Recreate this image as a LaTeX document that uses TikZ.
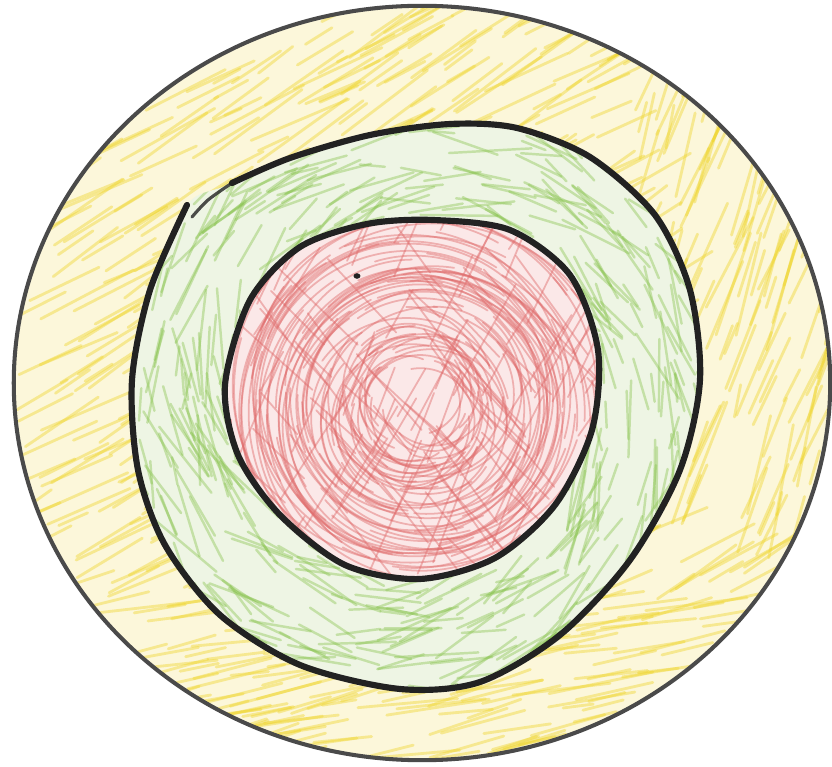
\documentclass[tikz,border=0pt]{standalone}
\definecolor{ybase}{HTML}{FCF7DA}
\definecolor{ystroke}{HTML}{EFD52A}
\definecolor{gbase}{HTML}{EEF5E4}
\definecolor{gstroke}{HTML}{86C24A}
\definecolor{rbase}{HTML}{FBE8E8}
\definecolor{rstroke}{HTML}{E06A6A}
\definecolor{outline}{HTML}{4A4A4A}
\definecolor{ink}{HTML}{222222}
\tikzset{
  outerring/.style={draw=outline, line width=1.15pt},
  blobline/.style={draw=ink, line width=1.75pt, line cap=round, line join=round},
  ycrayon/.style={draw=ystroke, line width=0.8pt, draw opacity=0.42, line cap=round},
  gcrayon/.style={draw=gstroke, line width=0.7pt, draw opacity=0.40, line cap=round},
  rcrayon/.style={draw=rstroke, line width=0.5pt, draw opacity=0.45, line cap=round},
}
\begin{document}
\begin{tikzpicture}[x=0.01cm,y=-0.01cm]
\useasboundingbox (0,0) rectangle (832,767);
\pgfmathsetseed{7}
% ---- outer yellow disc
\fill[ybase] (422,383) ellipse [x radius=4.08cm, y radius=3.77cm];
\begin{scope}
  \clip (422,383) ellipse [x radius=4.08cm, y radius=3.77cm];
  \foreach \i in {1,...,950}{
    \pgfmathsetmacro\px{10+rnd*820}
    \pgfmathsetmacro\py{4+rnd*760}
    \pgfmathsetmacro\ang{(\px>630 && \py<560) ? (-62-rnd*18) : ((\py>600) ? (-5-rnd*15) : (-22-rnd*16))}
    \pgfmathsetmacro\len{30+rnd*80}
    \draw[ycrayon] (\px,\py) -- ++(\ang:\len);
  }
\end{scope}
% ---- green blob
\fill[gbase] plot[smooth cycle] coordinates {
  (187,205) (150,290) (132,380) (138,470) (165,545) (220,615) (300,665)
  (400,689) (480,682) (560,635) (630,560) (680,470) (700,380) (690,290)
  (655,215) (590,157) (517,128) (450,124) (370,135) (290,158) (225,186)};
\begin{scope}
  \clip plot[smooth cycle] coordinates {
  (187,205) (150,290) (132,380) (138,470) (165,545) (220,615) (300,665)
  (400,689) (480,682) (560,635) (630,560) (680,470) (700,380) (690,290)
  (655,215) (590,157) (517,128) (450,124) (370,135) (290,158) (225,186)};
  \foreach \i in {1,...,700}{
    \pgfmathsetmacro\px{125+rnd*580}
    \pgfmathsetmacro\py{120+rnd*575}
    \pgfmathsetmacro\ang{atan2(\py-400,\px-415)+90+rnd*40-20}
    \pgfmathsetmacro\len{25+rnd*60}
    \draw[gcrayon] (\px,\py) -- ++(\ang:\len);
  }
\end{scope}
% ---- red disc
\fill[rbase] plot[smooth cycle] coordinates {
  (225,385) (250,300) (300,247) (367,224) (433,220) (510,230) (570,275)
  (598,350) (592,430) (555,505) (495,558) (420,579) (345,565) (280,515)
  (238,455)};
\begin{scope}
  \clip plot[smooth cycle] coordinates {
  (225,385) (250,300) (300,247) (367,224) (433,220) (510,230) (570,275)
  (598,350) (592,430) (555,505) (495,558) (420,579) (345,565) (280,515)
  (238,455)};
  \foreach \i in {1,...,170}{
    \pgfmathsetmacro\aa{rnd*360}
    \pgfmathsetmacro\rr{0.4+rnd*1.5}
    \pgfmathsetmacro\dd{40+rnd*110}
    \pgfmathsetmacro\ox{405+rnd*30}
    \pgfmathsetmacro\oy{385+rnd*40}
    \draw[rcrayon] ([shift={(\aa:\rr cm)}]\ox,\oy) arc[start angle=\aa, delta angle=\dd, radius=\rr cm];
  }
  \foreach \i in {1,...,160}{
    \pgfmathsetmacro\px{220+rnd*380}
    \pgfmathsetmacro\py{215+rnd*370}
    \pgfmathsetmacro\ang{(rnd<0.5) ? (-55-rnd*15) : (40+rnd*15)}
    \pgfmathsetmacro\len{40+rnd*90}
    \draw[rcrayon] (\px,\py) -- ++(\ang:\len);
  }
\end{scope}
% ---- outlines
\draw[outerring] (422,383) ellipse [x radius=4.08cm, y radius=3.77cm];
\draw[blobline] plot[smooth] coordinates {
  (187,205) (150,290) (132,380) (138,470) (165,545) (220,615) (300,665)
  (400,689) (480,682) (560,635) (630,560) (680,470) (700,380) (690,290)
  (655,215) (590,157) (517,128) (450,124) (370,135) (290,158) (232,183)};
\draw[draw=ink, line width=0.9pt, line cap=round, draw opacity=0.8] plot[smooth] coordinates {(232,183) (208,200) (192,217)};
\draw[blobline] plot[smooth cycle] coordinates {
  (225,385) (250,300) (300,247) (367,224) (433,220) (510,230) (570,275)
  (598,350) (592,430) (555,505) (495,558) (420,579) (345,565) (280,515)
  (238,455)};
\fill[ink] (357,276) ellipse [x radius=0.035cm, y radius=0.028cm];
\end{tikzpicture}
\end{document}
